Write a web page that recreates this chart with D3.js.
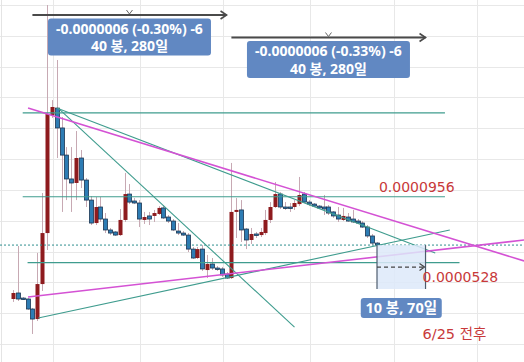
<!DOCTYPE html>
<html>
<head>
<meta charset="utf-8">
<script src="https://cdn.jsdelivr.net/npm/d3@7"></script>
<style>
  body { margin: 0; background: #fff; }
  svg { display: block; }
</style>
</head>
<body>
<svg id="chart" width="524" height="362"></svg>
<script>
// weekly candles, prices in units of 1e-7
const UNIT = 1e-7;

const opens = [292, 331, 298, 292, 227, 162, 389, 720, 1486, 1531, 1402, 1226, 1071, 1045, 1207, 1064,
  934, 785, 889, 811, 740, 727, 707, 805, 973, 928, 915, 805, 831, 831, 844, 883, 824, 798, 733, 720,
  707, 616, 558, 616, 480, 519, 493, 487, 454, 428, 857, 870, 746, 675, 714, 707, 720, 805, 889, 973,
  889, 889, 889, 908, 973, 921, 908, 895, 889, 889, 857, 837, 805, 824, 811, 798, 785, 759, 701, 655];
const highs = [350, 636, 305, 298, 234, 591, 980, 2200, 1583, 1843, 1473, 1278, 1278, 1382, 1259, 1077,
  960, 954, 954, 850, 753, 733, 876, 1110, 1038, 947, 934, 857, 857, 870, 895, 902, 837, 811, 785, 733,
  720, 629, 629, 642, 578, 558, 506, 500, 467, 1175, 947, 934, 753, 753, 727, 753, 870, 921, 1051, 986,
  921, 915, 934, 1084, 986, 934, 915, 902, 967, 902, 863, 889, 883, 850, 870, 811, 798, 772, 714, 662];
const lows = [273, 279, 286, 221, 65, 149, 344, 610, 1467, 1207, 857, 934, 857, 934, 1012, 889,
  772, 772, 792, 720, 707, 701, 701, 792, 908, 908, 759, 779, 772, 792, 837, 811, 785, 733, 707, 701,
  597, 552, 552, 474, 428, 480, 474, 435, 422, 422, 688, 662, 616, 649, 688, 694, 707, 785, 883, 876,
  870, 857, 870, 895, 915, 895, 889, 876, 837, 837, 818, 792, 798, 792, 785, 779, 753, 688, 642, 636];
const closes = [331, 292, 292, 227, 162, 389, 720, 1492, 1538, 1402, 1226, 1071, 1045, 1207, 1064, 934,
  785, 889, 811, 740, 720, 707, 805, 973, 921, 915, 811, 824, 811, 850, 883, 818, 798, 740, 720, 707,
  616, 558, 616, 487, 519, 493, 487, 448, 428, 857, 870, 740, 675, 714, 707, 727, 805, 889, 973, 889,
  883, 883, 915, 967, 921, 908, 895, 883, 876, 850, 831, 811, 831, 798, 792, 785, 759, 701, 655, 642];

// drawn lines: [startIndex, startPrice, endIndex, endPrice, colour key]
const trendLines = [
  [2, 1500, 89, 1500, "teal"],
  [2, 956, 89, 956, "teal"],
  [3, 528, 92, 528, "teal"],
  [9, 1531, 87, 590, "teal"],
  [9.3, 1531, 58, 110, "teal"],
  [5.2, 169, 90, 740, "teal"],
  [3.1, 1531, 105.3, 539, "pink"],
  [3.1, 305, 105.3, 675, "pink"]
];

// price range measurements: [startIndex, endIndex, price, line1, line2]
const measures = [
  [4, 44, 2135, "-0.0000006 (-0.30%) -6", "40 봉, 280일"],
  [45, 85, 1989, "-0.0000006 (-0.33%) -6", "40 봉, 280일"]
];

const levelLabels = ["0.0000956", "0.0000528"];
const projection = { bars: 10, label: "10 봉, 70일", bottom: 357, note: "6/25 전후" };
const gridIndex = [8.2, 26.1, 43.3, 61.2, 78.5, 95.6];

const width = 524, height = 362;
const svg = d3.select("#chart");

const x = d3.scaleLinear().domain([0, 75]).range([13, 377]);
const y = d3.scaleLinear().domain([0, 0.00022]).range([344, 5]);
const py = (p) => y(p * UNIT);

const colors = {
  teal: "#3f9c8e",
  pink: "#d452d4",
  up: "#8e1b1e",
  down: "#2d7cb4",
  downStroke: "#1b3552",
  wick: "#c7a9b3",
  label: "#c8393a",
  box: "#6188c2"
};
const boxFont = "bold 14px 'Noto Sans', 'Noto Sans CJK KR', sans-serif";

// grid
const grid = svg.append("g").attr("class", "grid");
grid.selectAll(".hgrid")
  .data(y.ticks(12))
  .join("line")
  .attr("x1", 0).attr("x2", width)
  .attr("y1", (d) => Math.round(y(d)) + 0.5)
  .attr("y2", (d) => Math.round(y(d)) + 0.5)
  .attr("stroke", "#e8e8e8");
grid.selectAll(".vgrid")
  .data(gridIndex)
  .join("line")
  .attr("x1", (d) => Math.round(x(d)) + 0.5)
  .attr("x2", (d) => Math.round(x(d)) + 0.5)
  .attr("y1", 0).attr("y2", height)
  .attr("stroke", "#e8e8e8");
grid.append("line")
  .attr("x1", 1.5).attr("x2", 1.5).attr("y1", 0).attr("y2", height)
  .attr("stroke", "#e4e4e4");

// candles
const candles = opens.map((o, i) => ({
  i, open: o, high: highs[i], low: lows[i], close: closes[i]
}));

const cg = svg.append("g").attr("class", "candles");
cg.selectAll(".wick")
  .data(candles)
  .join("line")
  .attr("x1", (d) => Math.round(x(d.i)) + 0.5)
  .attr("x2", (d) => Math.round(x(d.i)) + 0.5)
  .attr("y1", (d) => py(d.high))
  .attr("y2", (d) => py(d.low))
  .attr("stroke", colors.wick);
cg.selectAll(".body")
  .data(candles)
  .join("rect")
  .attr("x", (d) => Math.round(x(d.i)) - 1.5)
  .attr("width", 4)
  .attr("y", (d) => py(Math.max(d.open, d.close)))
  .attr("height", (d) => Math.max(1.5, Math.abs(py(d.open) - py(d.close))))
  .attr("fill", (d) => (d.close > d.open ? colors.up : colors.down))
  .attr("stroke", (d) => (d.close > d.open ? "none" : colors.downStroke))
  .attr("stroke-width", 0.8);

// current price line
const last = closes[closes.length - 1];
svg.append("line")
  .attr("x1", 0).attr("x2", width)
  .attr("y1", py(last)).attr("y2", py(last))
  .attr("stroke", "#2e8f8f")
  .attr("stroke-dasharray", "2,2");

// trend lines
svg.append("g")
  .selectAll("line")
  .data(trendLines)
  .join("line")
  .attr("x1", (d) => x(d[0]))
  .attr("y1", (d) => py(d[1]))
  .attr("x2", (d) => x(d[2]))
  .attr("y2", (d) => py(d[3]))
  .attr("stroke", (d) => colors[d[4]])
  .attr("stroke-width", (d) => (d[4] === "pink" ? 1.6 : 1.1));

// projection box
const lastIdx = closes.length - 1;
const px0 = x(lastIdx), px1 = x(lastIdx + projection.bars);
const ptop = py(last), pbot = py(projection.bottom);
const proj = svg.append("g");
proj.append("rect")
  .attr("x", px0).attr("y", ptop)
  .attr("width", px1 - px0).attr("height", pbot - ptop)
  .attr("fill", "#dde9f9").attr("opacity", 0.85);
[px0, px1].forEach((px) => {
  proj.append("line")
    .attr("x1", px).attr("x2", px).attr("y1", ptop).attr("y2", pbot)
    .attr("stroke", "#4d5d6e").attr("stroke-width", 1.2);
});
const pmid = (ptop + pbot) / 2;
proj.append("line")
  .attr("x1", px0).attr("x2", px1 - 1).attr("y1", pmid).attr("y2", pmid)
  .attr("stroke", "#444").attr("stroke-width", 1.2).attr("stroke-dasharray", "4,3");
proj.append("path")
  .attr("d", `M${px1 - 6},${pmid - 3.5}L${px1 - 1},${pmid}L${px1 - 6},${pmid + 3.5}`)
  .attr("fill", "none").attr("stroke", "#444").attr("stroke-width", 1.2);
const lbW = 81, lbH = 20, lbX = (px0 + px1) / 2 - lbW / 2, lbY = pbot + 9;
proj.append("rect")
  .attr("x", lbX).attr("y", lbY).attr("width", lbW).attr("height", lbH)
  .attr("rx", 3).attr("fill", colors.box);
proj.append("text")
  .attr("x", lbX + lbW / 2).attr("y", lbY + lbH / 2 + 5)
  .attr("text-anchor", "middle")
  .attr("fill", "#fff")
  .style("font", "bold 14.5px 'Noto Sans', 'Noto Sans CJK KR', sans-serif")
  .text(projection.label);

// measurement arrows with boxes
measures.forEach(([i0, i1, price, t1, t2]) => {
  const g = svg.append("g");
  const ax0 = x(i0), ax1 = x(i1), ay = py(price);
  const mid = (ax0 + ax1) / 2;
  g.append("line")
    .attr("x1", ax0).attr("x2", ax1).attr("y1", ay).attr("y2", ay)
    .attr("stroke", "#4a4a4a").attr("stroke-width", 2.2);
  g.append("path")
    .attr("d", `M${ax1 - 6},${ay - 4}L${ax1},${ay}L${ax1 - 6},${ay + 4}`)
    .attr("fill", "none").attr("stroke", "#4a4a4a").attr("stroke-width", 1.6);
  g.append("path")
    .attr("d", `M${mid - 3},${ay - 5}L${mid},${ay - 1}L${mid + 3},${ay - 5}`)
    .attr("fill", "none").attr("stroke", "#666").attr("stroke-width", 1);
  const bw = 163, bh = 37;
  g.append("rect")
    .attr("x", mid - bw / 2).attr("y", ay + 3.5)
    .attr("width", bw).attr("height", bh).attr("rx", 3)
    .attr("fill", colors.box);
  g.append("text")
    .attr("x", mid).attr("y", ay + 18.5)
    .attr("text-anchor", "middle").attr("fill", "#fff")
    .style("font", boxFont)
    .text(t1);
  g.append("text")
    .attr("x", mid).attr("y", ay + 36)
    .attr("text-anchor", "middle").attr("fill", "#fff")
    .style("font", boxFont)
    .text(t2);
});

// red level labels
const lab = svg.append("g")
  .attr("fill", colors.label)
  .style("font", "14px 'DejaVu Sans', 'Noto Sans CJK KR', sans-serif");
lab.append("text")
  .attr("x", x(75.4)).attr("y", py(956) - 4.5)
  .text(levelLabels[0]);
lab.append("text")
  .attr("x", px1 - 3).attr("y", py(528) + 19.5)
  .text(levelLabels[1]);
lab.append("text")
  .attr("x", px1 - 3).attr("y", 339)
  .style("font-size", "14.5px")
  .text(projection.note);
</script>
</body>
</html>
